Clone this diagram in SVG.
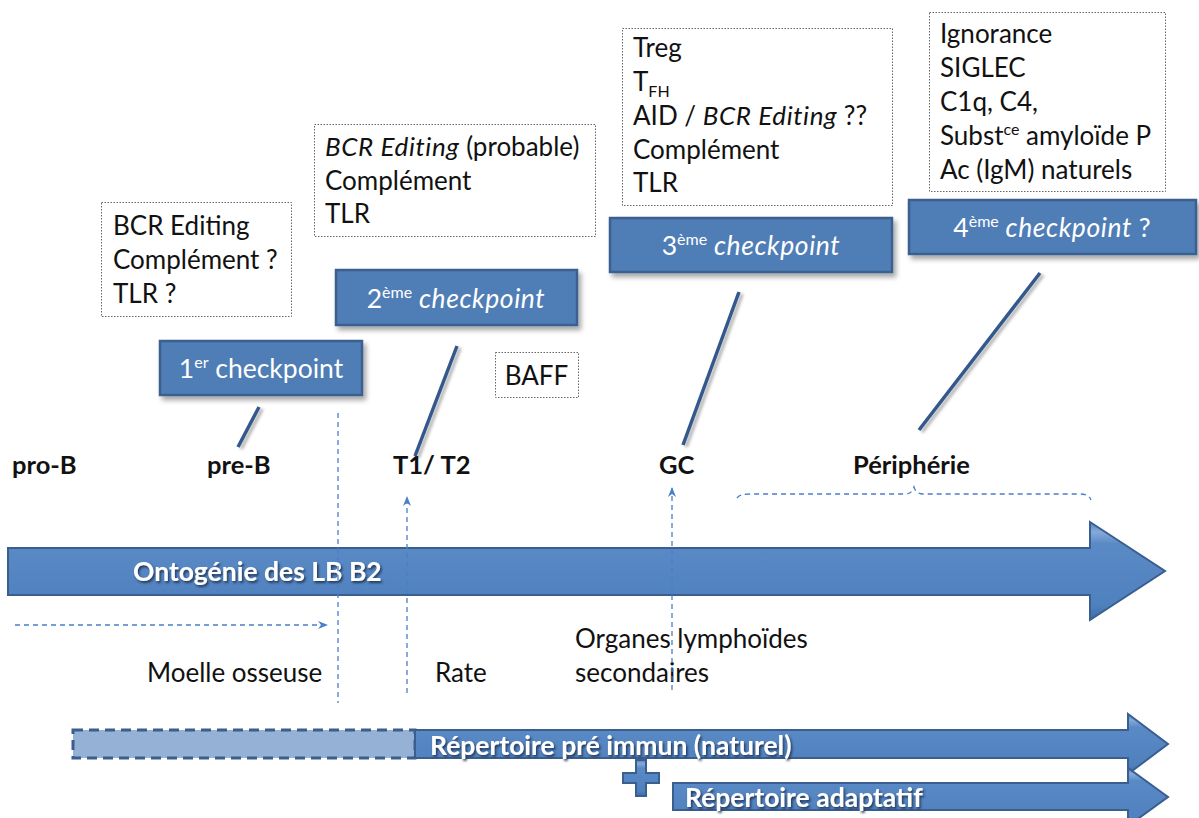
<svg xmlns="http://www.w3.org/2000/svg" width="1199" height="818" viewBox="0 0 1199 818">
<defs>
<linearGradient id="gBar" x1="0" y1="0" x2="0" y2="1">
<stop offset="0" stop-color="#4F83C2"/>
<stop offset="0.1" stop-color="#86AADA"/>
<stop offset="0.22" stop-color="#5A8AC6"/>
<stop offset="0.85" stop-color="#4F81BE"/>
<stop offset="1" stop-color="#3E6CA6"/>
</linearGradient>
<filter id="sh" x="-10%" y="-20%" width="130%" height="160%">
<feDropShadow dx="3" dy="4" stdDeviation="2.5" flood-color="#000" flood-opacity="0.35"/>
</filter>
<filter id="lsh" x="-50%" y="-20%" width="200%" height="140%">
<feDropShadow dx="3" dy="2" stdDeviation="1.5" flood-color="#000" flood-opacity="0.3"/>
</filter>
<filter id="tsh" x="-5%" y="-20%" width="110%" height="150%">
<feDropShadow dx="1.5" dy="2" stdDeviation="0.8" flood-color="#1B3050" flood-opacity="0.9"/>
</filter>
<marker id="ah" viewBox="0 0 10 8" refX="9" refY="4" markerWidth="10" markerHeight="8" markerUnits="userSpaceOnUse" orient="auto">
<path d="M0,0 L10,4 L0,8 L3,4 Z" fill="#4A7FC9"/>
</marker>
</defs>
<style>
text{font-family:Lato,"Liberation Sans",sans-serif}
.lbl{font-size:26px;fill:#111}
.stage{font-size:25.5px;font-weight:bold;fill:#111}
.box{fill:#fff;stroke:#666;stroke-width:1;stroke-dasharray:1.5 1.5}
.cp{fill:#4F7DB6;stroke:#3A6190;stroke-width:2.5;filter:url(#sh)}
.cpt{font-size:26.5px;fill:#fff;text-anchor:middle}
.conn{stroke:#34598C;stroke-width:3.5;stroke-linecap:butt;filter:url(#lsh)}
.dash{stroke:#4A7FC9;stroke-width:1.3;stroke-dasharray:5 4;fill:none}
.bar{fill:url(#gBar);stroke:#3A5F8F;stroke-width:2}
.bartxt{font-weight:bold;fill:#fff;filter:url(#tsh)}
.it{font-style:italic;letter-spacing:0.6px}
</style>

<g id="box1">
<rect class="box" x="101.5" y="202.5" width="190" height="114"/>
<text class="lbl" x="113" y="235">BCR Editing</text>
<text class="lbl" x="113" y="269">Complément ?</text>
<text class="lbl" x="113" y="303">TLR ?</text>
</g>
<g id="box2">
<rect class="box" x="314.5" y="124.5" width="281" height="112"/>
<text class="lbl" x="325" y="156"><tspan class="it">BCR Editing</tspan> (probable)</text>
<text class="lbl" x="325" y="190">Complément</text>
<text class="lbl" x="325" y="223">TLR</text>
</g>
<g id="box3">
<rect class="box" x="622.5" y="28.5" width="270" height="177"/>
<text class="lbl" x="633" y="57">Treg</text>
<text class="lbl" x="633" y="91">T<tspan font-size="16" dy="6">FH</tspan></text>
<text class="lbl" x="633" y="125">AID / <tspan class="it">BCR Editing</tspan> ??</text>
<text class="lbl" x="633" y="159">Complément</text>
<text class="lbl" x="633" y="192">TLR</text>
</g>
<g id="box4">
<rect class="box" x="929.5" y="12.5" width="236" height="179"/>
<text class="lbl" x="940" y="43">Ignorance</text>
<text class="lbl" x="940" y="77">SIGLEC</text>
<text class="lbl" x="940" y="111">C1q, C4,</text>
<text class="lbl" x="940" y="145">Subst<tspan font-size="16" dy="-10">ce</tspan><tspan dy="10"> amyloïde P</tspan></text>
<text class="lbl" x="940" y="179">Ac (IgM) naturels</text>
</g>
<g id="baff">
<rect class="box" x="495.5" y="352.5" width="83" height="45"/>
<text class="lbl" x="536.5" y="385" text-anchor="middle">BAFF</text>
</g>

<g id="cp1">
<rect class="cp" x="160" y="341" width="202" height="54"/>
<text class="cpt" x="261" y="378">1<tspan font-size="16" dy="-10">er</tspan><tspan dy="10"> checkpoint</tspan></text>
</g>
<g id="cp2">
<rect class="cp" x="336" y="270" width="241" height="55"/>
<text class="cpt" x="456" y="308">2<tspan font-size="16" dy="-10">ème</tspan><tspan dy="10"> </tspan><tspan class="it">checkpoint</tspan></text>
</g>
<g id="cp3">
<rect class="cp" x="610" y="218" width="282" height="54"/>
<text class="cpt" x="751" y="255">3<tspan font-size="16" dy="-10">ème</tspan><tspan dy="10"> </tspan><tspan class="it">checkpoint</tspan></text>
</g>
<g id="cp4">
<rect class="cp" x="909" y="200" width="287" height="54"/>
<text class="cpt" x="1052" y="237">4<tspan font-size="16" dy="-10">ème</tspan><tspan dy="10"> </tspan><tspan class="it">checkpoint</tspan> ?</text>
</g>

<g id="stages">
<text class="stage" x="12" y="474">pro-B</text>
<text class="stage" x="207" y="474">pre-B</text>
<text class="stage" x="393" y="474">T1/ T2</text>
<text class="stage" x="659" y="474">GC</text>
<text class="stage" x="853" y="474">Périphérie</text>
</g>

<g id="ontogenie">
<path class="bar" d="M8,548 L1090,548 L1090,522 L1165,571 L1090,620 L1090,595 L8,595 Z"/>
<text class="bartxt" x="133" y="581" font-size="26.5">Ontogénie des LB B2</text>
</g>

<g id="repertoires">
<rect x="73" y="730" width="342" height="28" fill="#95B1D6" stroke="#3A5F8F" stroke-width="3" stroke-dasharray="10 6"/>
<path class="bar" d="M415,730 L1128,730 L1128,714 L1168,744 L1128,774 L1128,758 L415,758 Z"/>
<text class="bartxt" x="430" y="755" font-size="26.5">Répertoire pré immun (naturel)</text>
<path class="bar" d="M673,783 L1128,783 L1128,768 L1168,797 L1128,826 L1128,810 L673,810 Z"/>
<text class="bartxt" x="685" y="807" font-size="26.5">Répertoire adaptatif</text>
<path class="bar" d="M636,760 L646,760 L646,773 L659,773 L659,783 L646,783 L646,796 L636,796 L636,783 L623,783 L623,773 L636,773 Z"/>
</g>

<g id="places">
<text class="lbl" x="147" y="682">Moelle osseuse</text>
<text class="lbl" x="435" y="682">Rate</text>
<text class="lbl" x="575" y="648">Organes lymphoïdes</text>
<text class="lbl" x="575" y="682">secondaires</text>
</g>

<g id="connectors">
<line class="conn" x1="259" y1="407" x2="238" y2="447"/>
<line class="conn" x1="457" y1="346" x2="415" y2="456"/>
<line class="conn" x1="739" y1="292" x2="683" y2="445"/>
<line class="conn" x1="1040" y1="273" x2="919" y2="430"/>
<line class="dash" x1="338" y1="413" x2="338" y2="703"/>
<line class="dash" x1="407" y1="693" x2="407" y2="497" marker-end="url(#ah)"/>
<line class="dash" x1="672" y1="690" x2="672" y2="488" marker-end="url(#ah)"/>
<line class="dash" x1="15" y1="625" x2="327" y2="625" marker-end="url(#ah)"/>
<path class="dash" d="M737,498 Q740,494 750,494 L905,494 Q912,494 914,487 Q916,494 923,494 L1080,494 Q1089,494 1091,500"/>
</g>
</svg>
